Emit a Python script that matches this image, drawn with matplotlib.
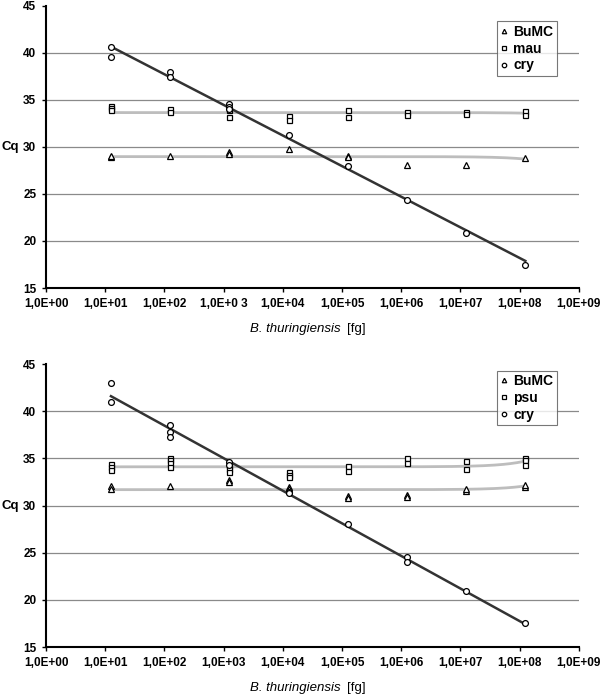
import numpy as np
import matplotlib.pyplot as plt
from matplotlib.ticker import FixedLocator, FixedFormatter, NullLocator

plt.rcParams['font.family'] = ['Liberation Sans', 'DejaVu Sans']

# amounts of DNA [fg] (x position of each replicate)
x_levels = [1.25e1, 1.25e2, 1.25e3, 1.25e4, 1.25e5, 1.25e6, 1.25e7, 1.25e8]

# --- top panel: BuMC / mau / cry ---
top_bumc = [[28.9, 29.0], [29.0], [29.5, 29.3], [29.8], [29.0, 28.9],
            [28.1], [28.1], [28.8]]
top_mau = [[34.4, 34.1, 33.9], [34.0, 33.7], [33.9, 33.2], [33.3, 32.9],
           [33.9, 33.2], [33.7, 33.4], [33.7, 33.5], [33.8, 33.4]]
top_cry = [[40.6, 39.6], [38.0, 37.4], [34.6, 34.3, 34.0], [31.3],
           [28.0], [24.4], [20.9], [17.5]]

# --- bottom panel: BuMC / psu / cry ---
bot_bumc = [[32.1, 31.8], [32.1], [32.7, 32.5], [32.0, 31.7], [31.0, 30.8],
            [31.1, 30.9], [31.5, 31.7], [32.0, 32.2]]
bot_psu = [[34.4, 34.1, 33.8], [35.0, 34.8, 34.5, 34.1], [34.2, 33.9, 33.6],
           [33.5, 33.2, 33.0], [34.2, 33.7], [35.0, 34.5], [34.7, 33.9],
           [35.0, 34.8, 34.3]]
bot_cry = [[43.0, 41.0], [38.5, 37.8, 37.3], [34.6, 34.3], [31.4, 31.3],
           [28.0], [24.5, 24.0], [20.9], [17.5]]

xtick_vals = [1e0, 1e1, 1e2, 1e3, 1e4, 1e5, 1e6, 1e7, 1e8, 1e9]
top_xtick_labels = ['1,0E+00', '1,0E+01', '1,0E+02', '1,0E+0 3', '1,0E+04',
                    '1,0E+05', '1,0E+06', '1,0E+07', '1,0E+08', '1,0E+09']
bot_xtick_labels = ['1,0E+00', '1,0E+01', '1,0E+02', '1,0E+03', '1,0E+04',
                    '1,0E+05', '1,0E+06', '1,0E+07', '1,0E+08', '1,0E+09']
yticks = [15, 20, 25, 30, 35, 40, 45]


def flatten(groups):
    xs, ys = [], []
    for xv, g in zip(x_levels, groups):
        for v in g:
            xs.append(xv)
            ys.append(v)
    return np.array(xs), np.array(ys)


def draw_panel(ax, bumc, ref, cry, ref_name, xlabels, leg_y):
    ax.set_xscale('log')
    ax.set_xlim(1, 1e9)
    ax.set_ylim(15, 45)
    for y in yticks[1:-1]:
        ax.axhline(y, color='#8a8a8a', lw=0.9, zorder=0)

    xx = np.logspace(np.log10(x_levels[0]), np.log10(x_levels[-1]), 300)

    # flat trendlines (linear fit in x, as drawn by the spreadsheet)
    for groups in (bumc, ref):
        xs, ys = flatten(groups)
        p = np.polyfit(xs, ys, 1)
        ax.plot(xx, np.polyval(p, xx), color='#bdbdbd', lw=2.0, zorder=1)

    # standard curve for cry (linear in log10 x)
    xs, ys = flatten(cry)
    p = np.polyfit(np.log10(xs), ys, 1)
    ax.plot(xx, np.polyval(p, np.log10(xx)), color='#333333', lw=1.8, zorder=2)

    mk = dict(ls='none', mfc='white', mec='black', mew=0.9, zorder=3)
    xs, ys = flatten(bumc)
    ax.plot(xs, ys, marker='^', ms=4.3, label='BuMC', **mk)
    xs, ys = flatten(ref)
    ax.plot(xs, ys, marker='s', ms=3.6, label=ref_name, **mk)
    xs, ys = flatten(cry)
    ax.plot(xs, ys, marker='o', ms=4.2, label='cry', **mk)

    ax.xaxis.set_major_locator(FixedLocator(xtick_vals))
    ax.xaxis.set_major_formatter(FixedFormatter(xlabels))
    ax.xaxis.set_minor_locator(NullLocator())
    ax.set_yticks(yticks)
    ax.tick_params(direction='out', length=3, width=1, pad=4,
                   labelsize=8.5)
    for lab in ax.get_xticklabels() + ax.get_yticklabels():
        lab.set_fontweight('bold')

    for s in ('top', 'right'):
        ax.spines[s].set_visible(False)
    for s in ('left', 'bottom'):
        ax.spines[s].set_linewidth(1.5)

    ax.text(-0.067, 0.5, 'Cq', transform=ax.transAxes, ha='center',
            va='center', fontsize=9.5, fontweight='bold')
    ax.text(0.553, -0.145, 'B. thuringiensis', transform=ax.transAxes,
            ha='right', va='center', fontsize=9.5, style='italic')
    ax.text(0.565, -0.145, '[fg]', transform=ax.transAxes,
            ha='left', va='center', fontsize=9.5)

    leg = ax.legend(loc='upper left', bbox_to_anchor=(0.846, leg_y),
                    frameon=True, fancybox=False, borderpad=0.25,
                    handlelength=0.6, handletextpad=0.35, labelspacing=0.2,
                    borderaxespad=0, prop={'weight': 'bold', 'size': 10})
    leg.get_frame().set_edgecolor('#555555')
    leg.get_frame().set_linewidth(0.8)
    for h in leg.legend_handles:
        h.set_markersize(3.2)


fig = plt.figure(figsize=(6.0, 6.94), dpi=100)
ax1 = fig.add_axes([0.0767, 0.585, 0.888, 0.4065])
ax2 = fig.add_axes([0.0767, 0.0677, 0.888, 0.4078])

draw_panel(ax1, top_bumc, top_mau, top_cry, 'mau', top_xtick_labels, 0.945)
draw_panel(ax2, bot_bumc, bot_psu, bot_cry, 'psu', bot_xtick_labels, 0.977)

fig.savefig('out.png', dpi=100)
